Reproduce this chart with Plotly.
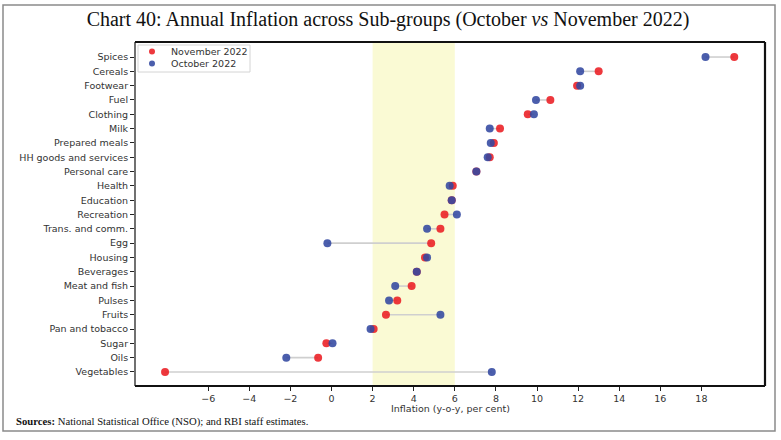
import plotly.graph_objects as go

categories = ["Spices", "Cereals", "Footwear", "Fuel", "Clothing", "Milk", "Prepared meals",
              "HH goods and services", "Personal care", "Health", "Education", "Recreation",
              "Trans. and comm.", "Egg", "Housing", "Beverages", "Meat and fish", "Pulses",
              "Fruits", "Pan and tobacco", "Sugar", "Oils", "Vegetables"]
october_2022 = [18.2, 12.1, 12.1, 9.95, 9.85, 7.7, 7.75, 7.6, 7.05, 5.75, 5.85, 6.1,
                4.65, -0.2, 4.65, 4.15, 3.1, 2.8, 5.3, 1.9, 0.05, -2.2, 7.8]
november_2022 = [19.6, 13.0, 11.95, 10.65, 9.55, 8.2, 7.9, 7.7, 7.05, 5.9, 5.85, 5.5,
                 5.3, 4.85, 4.55, 4.15, 3.9, 3.2, 2.65, 2.05, -0.25, -0.65, -8.1]
series_names = ["November 2022", "October 2022"]
x_ticks = [-6, -4, -2, 0, 2, 4, 6, 8, 10, 12, 14, 16, 18]
target_band = [2, 6]

NOV_COLOR = "rgba(234,28,34,0.88)"
OCT_COLOR = "rgba(50,72,160,0.88)"

W, H = 781, 440
L, R, T, B = 135, 16, 42, 54
pw = W - L - R
ph = H - T - B


def px_x(v):
    return (v - L) / pw


def px_y(v):
    return (H - B - v) / ph


fig = go.Figure()

# connecting lines
lx, ly = [], []
for c, o, nv in zip(categories, october_2022, november_2022):
    lx += [o, nv, None]
    ly += [c, c, None]
fig.add_trace(go.Scatter(x=lx, y=ly, mode="lines", line=dict(color="#cfcfcf", width=1.6),
                         showlegend=False, hoverinfo="skip"))

fig.add_trace(go.Scatter(x=november_2022, y=categories, mode="markers", name=series_names[0],
                         marker=dict(color=NOV_COLOR, size=8), showlegend=False))
fig.add_trace(go.Scatter(x=october_2022, y=categories, mode="markers", name=series_names[1],
                         marker=dict(color=OCT_COLOR, size=8), showlegend=False))

fig.add_vrect(x0=target_band[0], x1=target_band[1], fillcolor="#fafad4", line_width=0,
              layer="below")

n = len(categories)
fig.update_layout(
    width=W, height=H,
    margin=dict(l=L, r=R, t=T, b=B),
    paper_bgcolor="white", plot_bgcolor="white",
    font=dict(family="DejaVu Sans", size=9.5, color="#333333"),
    title=dict(text="Chart 40: Annual Inflation across Sub-groups (October <i>vs</i> November 2022)",
               x=388 / W, xref="container", xanchor="center",
               y=1 - 19 / H, yref="container", yanchor="middle",
               font=dict(family="Liberation Serif", size=20, color="#111111")),
    xaxis=dict(range=[(L - 331.5) / 20.55, (W - R - 331.5) / 20.55], tickvals=x_ticks,
               showgrid=False, zeroline=False, ticks="outside", ticklen=4, tickwidth=1.2,
               tickcolor="#222", showline=False, tickfont=dict(size=9.5, color="#333")),
    yaxis=dict(type="category", categoryarray=categories, range=[n - 1 + 0.98, -1.05],
               showgrid=False, zeroline=False, ticks="outside", ticklen=4, tickwidth=1.2,
               tickcolor="#222", showline=False, tickfont=dict(size=9.5, color="#333")),
    showlegend=False,
)

# plot frame
frame = dict(color="#111", width=2.2)
fig.add_shape(type="line", xref="paper", yref="paper", x0=0, x1=1, y0=1, y1=1, line=frame)
fig.add_shape(type="line", xref="paper", yref="paper", x0=1, x1=1, y0=0, y1=1, line=frame)
fig.add_shape(type="line", xref="paper", yref="paper", x0=0, x1=1, y0=0, y1=0, line=frame)
fig.add_shape(type="line", xref="paper", yref="paper", x0=0, x1=0, y0=0, y1=1,
              line=dict(color="#111", width=1.2))

# outer border
fig.add_shape(type="rect", xref="paper", yref="paper", x0=px_x(3), x1=px_x(775),
              y0=px_y(431), y1=px_y(5), line=dict(color="#8a8a8a", width=1.5))

# legend (drawn manually for compact matplotlib-like layout)
fig.add_shape(type="rect", xref="paper", yref="paper", x0=px_x(138), x1=px_x(250),
              y0=px_y(72), y1=px_y(45), line=dict(color="#d4d4d4", width=1),
              fillcolor="white", layer="above")
for i, (name, col) in enumerate(zip(series_names, [NOV_COLOR, OCT_COLOR])):
    cy = 51.5 + 12 * i
    fig.add_shape(type="circle", xref="paper", yref="paper",
                  x0=px_x(149), x1=px_x(155), y0=px_y(cy + 3), y1=px_y(cy - 3),
                  line=dict(width=0), fillcolor=col, layer="above")
    fig.add_annotation(text=name, xref="paper", yref="paper", x=px_x(169), y=px_y(cy),
                       xanchor="left", yanchor="middle", showarrow=False,
                       font=dict(size=9.5, color="#333"))

fig.add_annotation(text="Inflation (y-o-y, per cent)", xref="paper", yref="paper",
                   x=0.5, y=px_y(409), xanchor="center", yanchor="middle", showarrow=False,
                   font=dict(size=9.5, color="#333"))
fig.add_annotation(text="<b>Sources:</b> National Statistical Office (NSO); and RBI staff estimates.",
                   xref="paper", yref="paper", x=px_x(14), y=px_y(421), xanchor="left",
                   yanchor="middle", showarrow=False,
                   font=dict(family="Liberation Serif", size=10.7, color="#111"))

fig.write_html("out.html", config={"displayModeBar": False},
               post_script="document.body.style.margin='0';document.body.style.padding='0';")
